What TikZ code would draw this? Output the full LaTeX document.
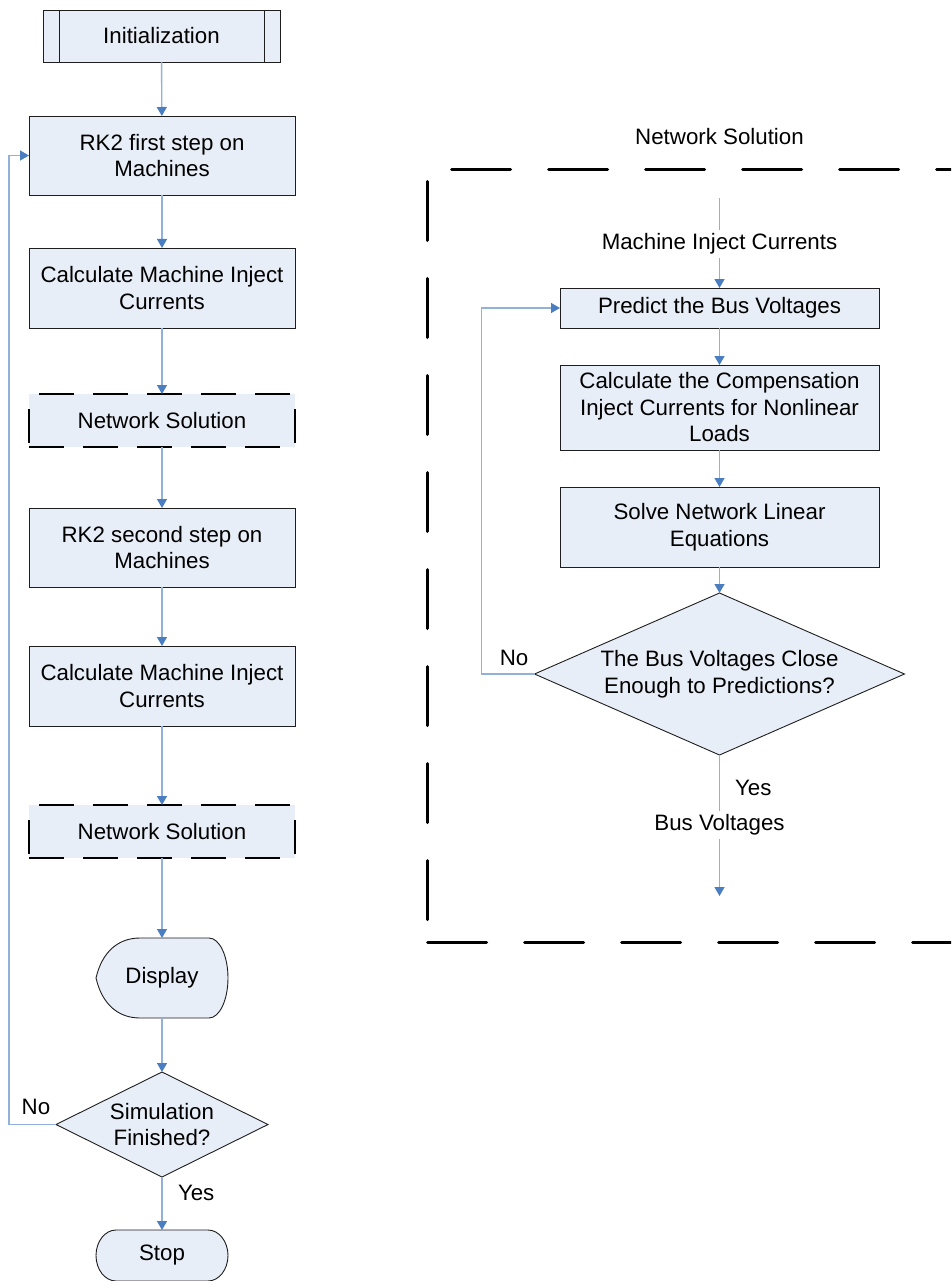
\documentclass[tikz,border=0pt]{standalone}
\usepackage{fontspec}
\setmainfont{Liberation Sans}
\usetikzlibrary{arrows.meta,shapes.geometric}
\definecolor{boxfill}{RGB}{232,238,247}
\definecolor{linkblue}{RGB}{145,177,218}
\definecolor{tipblue}{RGB}{74,126,193}
\definecolor{edge}{RGB}{30,30,30}

% dashed outline of a "Network Solution" block
\newcommand\nsoutline[1]{%
  \draw[nsdash] ([xshift=10pt]#1.north west) -- (#1.north east);
  \draw[nsdash] (#1.south west) -- (#1.south east);
  \draw[nsside] ([yshift=-15pt]#1.north west) -- ([yshift=4pt]#1.south west);
  \draw[nsside] ([yshift=-15pt]#1.north east) -- ([yshift=4pt]#1.south east);
}

\begin{document}
\begin{tikzpicture}[x=1pt,y=-1pt,
  every node/.style={font=\fontsize{22.3}{26.5}\selectfont, inner sep=0pt, outer sep=0pt, text=black, align=center},
  box/.style={draw=edge, line width=0.9pt, fill=boxfill, minimum height=79pt},
  lbox/.style={box, minimum width=266pt},
  rbox/.style={box, minimum width=319pt},
  nsbox/.style={fill=boxfill, minimum width=266pt, minimum height=53pt},
  nsdash/.style={line width=2pt, dash pattern=on 35pt off 19pt},
  nsside/.style={line width=2pt},
  decision/.style={diamond, draw=edge, line width=0.9pt, fill=boxfill},
  shapeline/.style={draw=edge, line width=0.9pt, fill=boxfill},
  conn/.style={draw=linkblue, line width=1.4pt},
  arr/.style={conn, -{Triangle[width=10pt,length=9pt,color=tipblue,fill=tipblue]}},
  framedash/.style={line width=3pt, line cap=round, dash pattern=on 59pt off 38pt},
  lbl/.style={inner sep=4pt}
]
\useasboundingbox (0,0) rectangle (951,1281);
\clip (0,0) rectangle (951,1281);

% ---------------- main loop ----------------
\node[lbox, minimum width=237pt, minimum height=52pt] (init) at (161.5,36) {Initialization};
\draw[draw=edge, line width=0.9pt] ([xshift=16pt]init.north west) -- ([xshift=16pt]init.south west);
\draw[draw=edge, line width=0.9pt] ([xshift=-16pt]init.north east) -- ([xshift=-16pt]init.south east);

\node[lbox] (rk1) at (162,155.5) {RK2 first step on\\Machines};
\node[lbox, minimum height=80pt] (mic1) at (162,288) {Calculate Machine Inject\\Currents};
\node[nsbox] (ns1) at (162,420.5) {Network Solution};
\nsoutline{ns1}
\node[lbox] (rk2) at (162,547.5) {RK2 second step on\\Machines};
\node[lbox, minimum height=80pt] (mic2) at (162,686) {Calculate Machine Inject\\Currents};
\node[nsbox] (ns2) at (162,831.5) {Network Solution};
\nsoutline{ns2}

% display symbol
\path[shapeline] (96,978) .. controls (102,952) and (118,938) .. (140,938) -- (209,938)
  .. controls (219.5,938) and (228,956) .. (228,978)
  .. controls (228,1000) and (219.5,1018) .. (209,1018) -- (140,1018)
  .. controls (118,1018) and (102,1004) .. cycle;
\node[minimum width=132pt, minimum height=80pt] (disp) at (162,978) {Display};

\node[decision, minimum width=212pt, minimum height=105pt] (sim) at (162,1124.5) {};
\node at (sim.center) {Simulation\\Finished?};

% terminator
\path[shapeline] (116,1230) -- (208,1230) .. controls (219,1230) and (228,1241.5) .. (228,1255.5)
  .. controls (228,1269.5) and (219,1281) .. (208,1281) -- (116,1281)
  .. controls (105,1281) and (96,1269.5) .. (96,1255.5)
  .. controls (96,1241.5) and (105,1230) .. cycle;
\node[minimum width=132pt, minimum height=51pt] (stop) at (162,1255.5) {Stop};

\draw[arr] (init) -- (rk1);
\draw[arr] (rk1) -- (mic1);
\draw[arr] (mic1) -- (ns1);
\draw[arr] (ns1) -- (rk2);
\draw[arr] (rk2) -- (mic2);
\draw[arr] (mic2) -- (ns2);
\draw[arr] (ns2) -- (disp);
\draw[arr] (disp) -- (sim.north);
\draw[arr] (sim.south) -- (stop);
\draw[arr] (sim.west) -- ++(-47,0) |- (rk1.west);
\node at (36,1107) {No};
\node[anchor=west] at (178,1193) {Yes};

% ---------------- network solution detail ----------------
\node at (719.5,137) {Network Solution};
\draw[framedash] (451.5,170) -- (1000,170);
\draw[framedash] (427,181.5) -- (427,921);
\draw[framedash] (427.5,942) -- (1000,942);

\coordinate (in) at (719.5,198);
\node[lbl] (micin) at (719.5,244) {Machine Inject Currents};
\node[rbox, minimum height=40pt] (pred) at (719.5,308) {Predict the Bus Voltages};
\node[rbox, minimum height=85pt] (comp) at (719.5,407.5) {Calculate the Compensation\\Inject Currents for Nonlinear\\Loads};
\node[rbox, minimum height=80pt] (solve) at (719.5,527) {Solve Network Linear\\Equations};
\node[decision, minimum width=370pt, minimum height=162pt] (close) at (719.5,674) {};
\node at (close.center) {The Bus Voltages Close\\Enough to Predictions?};
\node[lbl] (busv) at (719.5,825) {Bus Voltages};
\coordinate (out) at (719.5,896);

\draw[conn] (in) -- (micin);
\draw[arr] (micin) -- (pred);
\draw[arr] (pred) -- (comp);
\draw[arr] (comp) -- (solve);
\draw[arr] (solve) -- (close.north);
\draw[conn] (close.south) -- (busv);
\draw[arr] (busv) -- (out);
\draw[arr] (close.west) -- ++(-53,0) |- (pred.west);
\node at (514,658) {No};
\node[anchor=west] at (735,788) {Yes};
\end{tikzpicture}
\end{document}
